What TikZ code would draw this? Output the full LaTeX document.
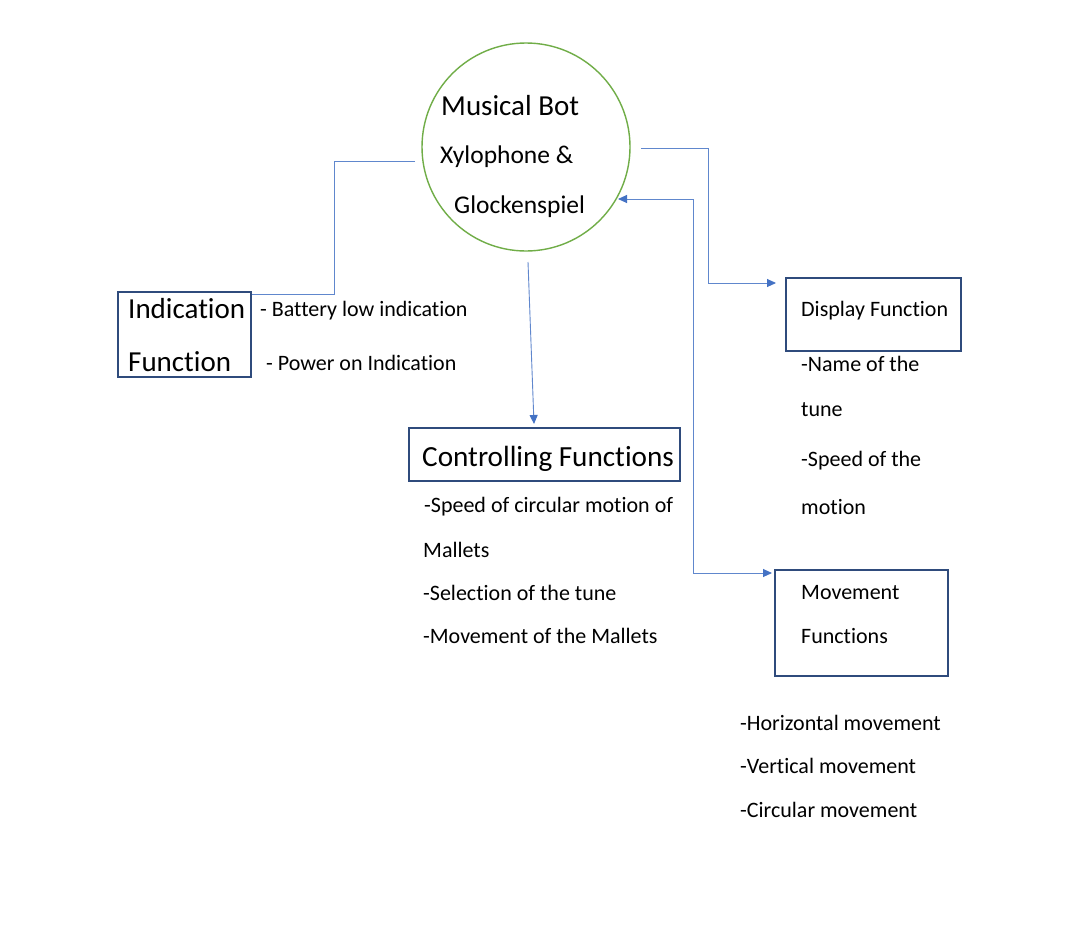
\documentclass[tikz,border=0pt]{standalone}
\usepackage{fontspec}
\setmainfont{Carlito}[Ligatures=NoCommon]
\usetikzlibrary{arrows.meta}
\definecolor{lnblue}{HTML}{4472C4}
\definecolor{boxblue}{HTML}{2F4B7C}
\definecolor{cgreen}{HTML}{70AD47}
\begin{document}
\begin{tikzpicture}[x=1pt,y=-1pt,
  txt/.style={anchor=west,inner sep=0pt,font=\fontsize{22}{24}\selectfont},
  bigtxt/.style={anchor=west,inner sep=0pt,font=\fontsize{29}{31}\selectfont},
  midtxt/.style={anchor=west,inner sep=0pt,font=\fontsize{25.5}{27}\selectfont},
  box/.style={draw=boxblue,line width=1.4pt,rectangle,inner sep=0pt},
  conn/.style={draw=lnblue!85!white,line width=0.9pt},
  tiphead/.tip={Triangle[length=9pt,width=8pt,color=lnblue]},
]
\useasboundingbox (0,0) rectangle (1073,950);
\fill[white] (0,0) rectangle (1073,950);

% central circle
\node[draw=cgreen,line width=1.4pt,circle,minimum size=208pt,inner sep=0pt] (bot) at (526,147) {};
\node[bigtxt] (t1) at (441,106) {Musical Bot};
\node[midtxt] (t2) at (440,157) {Xylophone \&};
\node[midtxt] (t3) at (454,207) {Glockenspiel};

% boxes
\node[box,minimum width=133pt,minimum height=85pt] (ind) at (184.5,334.5) {};
\node[box,minimum width=175pt,minimum height=73pt] (disp) at (873.5,314.5) {};
\node[box,minimum width=271pt,minimum height=53pt] (ctrl) at (544.5,454.5) {};
\node[box,minimum width=173pt,minimum height=106pt] (move) at (861.5,623) {};

% indication
\node[bigtxt] (i1) at (128,309) {Indication};
\node[bigtxt] (i2) at (128,362) {Function};
\node[txt] (i3) at (260,311) {- Battery low indication};
\node[txt] (i4) at (266,363) {- Power on Indication};

% display
\node[txt] (d0) at (801,311) {Display Function};
\node[txt] (d1) at (801,364) {-Name of the};
\node[txt] (d2) at (801,410) {tune};
\node[txt] (d3) at (801,461) {-Speed of the};
\node[txt] (d4) at (801,507) {motion};

% controlling
\node[anchor=west,inner sep=0pt,font=\fontsize{29.2}{31}\selectfont] (c0) at (422,459) {Controlling Functions};
\node[txt] (c1) at (424,507) {-Speed of circular motion of};
\node[txt] (c2) at (423,550) {Mallets};
\node[txt] (c3) at (423,593) {-Selection of the tune};
\node[txt] (c4) at (423,636) {-Movement of the Mallets};

% movement
\node[txt] (m0) at (801,593) {Movement};
\node[txt] (m1) at (801,636) {Functions};
\node[txt] (m2) at (740,723) {-Horizontal movement};
\node[txt] (m3) at (740,766) {-Vertical movement};
\node[txt] (m4) at (740,810) {-Circular movement};

% connector coordinates
\coordinate (a1) at (415,161);
\coordinate (a2) at (252,294);
\coordinate (b1) at (641,148);
\coordinate (b2) at (776,283);
\coordinate (c1s) at (528,262);
\coordinate (c1e) at (534,424);
\coordinate (e1) at (618,199);
\coordinate (e2) at (772,573);

\draw[conn] (a1) -- (334,161) -- (334,294) -- (a2);
\draw[conn,-tiphead] (b1) -- (708,148) -- (708,283) -- (b2);
\draw[conn,-tiphead] (c1s) -- (c1e);
\draw[conn,tiphead-tiphead] (e1) -- (693,199) -- (693,573) -- (e2);
\end{tikzpicture}
\end{document}
